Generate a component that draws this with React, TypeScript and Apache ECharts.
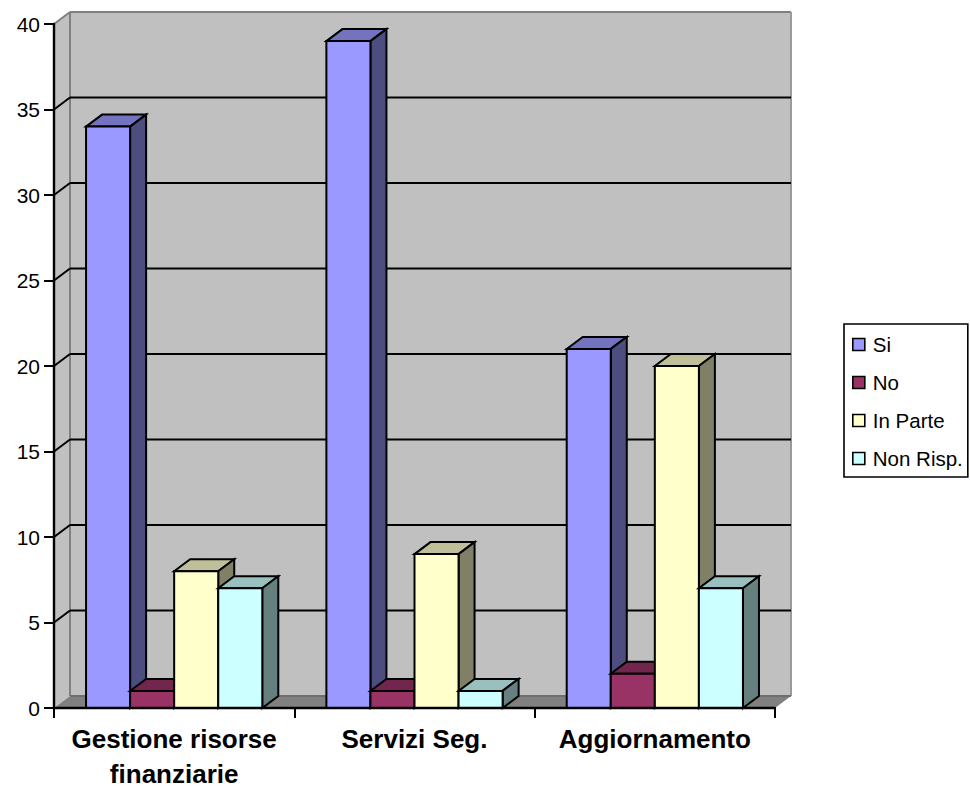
import React, { useEffect, useRef } from "react";
import * as echarts from "echarts";

const categories = ["Gestione risorse\nfinanziarie", "Servizi Seg.", "Aggiornamento"];
const seriesNames = ["Si", "No", "In Parte", "Non Risp."];
const si = [34, 39, 21];
const no = [1, 1, 2];
const inParte = [8, 9, 20];
const nonRisp = [7, 1, 7];
const seriesValues = [si, no, inParte, nonRisp];
const frontColors = ["#9999FF", "#993366", "#FFFFCC", "#CCFFFF"];
const topColors = ["#7373BF", "#73264D", "#BFBF99", "#99BFBF"];
const sideColors = ["#4D4D80", "#4D1A33", "#808066", "#668080"];
const yTicks = [0, 5, 10, 15, 20, 25, 30, 35, 40];

const DX = 16;
const DY = 12;
const BAR_SHARE = 44 / 240;
const INK = 2;

function wallItem(params: any, api: any) {
  const cs = params.coordSys;
  const x0 = cs.x, x1 = cs.x + cs.width;
  const y0 = cs.y + cs.height, y1 = cs.y;
  const poly = (points: number[][], fill: string) => ({
    type: "polygon",
    shape: { points },
    style: { fill, stroke: "none" },
  });
  const edge = (x1a: number, y1a: number, x2a: number, y2a: number, stroke = "#808080") => ({
    type: "line",
    shape: { x1: x1a, y1: y1a, x2: x2a, y2: y2a },
    style: { stroke, lineWidth: 2 },
  });
  return {
    type: "group",
    children: [
      poly([[x0 + DX, y1 - DY], [x1 + DX, y1 - DY], [x1 + DX, y0 - DY], [x0 + DX, y0 - DY]], "#C0C0C0"),
      poly([[x0, y1], [x0 + DX, y1 - DY], [x0 + DX, y0 - DY], [x0, y0]], "#C0C0C0"),
      poly([[x0, y0], [x0 + DX, y0 - DY], [x1 + DX, y0 - DY], [x1, y0]], "#808080"),
      edge(x0 + DX, y1 - DY, x1 + DX, y1 - DY),
      edge(x0 + DX, y1 - DY, x0 + DX, y0 - DY),
      edge(x1 + DX, y1 - DY, x1 + DX, y0 - DY, "#9A9A9A"),
      edge(x0, y1, x0 + DX, y1 - DY),
      edge(x0 + DX, y0 - DY, x1 + DX, y0 - DY, "#6E6E6E"),
    ],
  };
}

function gridItem(params: any, api: any) {
  const cs = params.coordSys;
  const p = api.coord([0, api.value(0)]);
  const y = p[1];
  const x0 = cs.x, x1 = cs.x + cs.width;
  const stroke = { stroke: "#000", lineWidth: INK };
  return {
    type: "group",
    children: [
      { type: "line", shape: { x1: x0, y1: y, x2: x0 + DX, y2: y - DY }, style: stroke },
      { type: "line", shape: { x1: x0 + DX, y1: y - DY, x2: x1 + DX, y2: y - DY }, style: stroke },
    ],
  };
}

function barRenderer(si: number) {
  return (params: any, api: any) => {
    const cat = api.value(0);
    const val = api.value(1);
    const band = api.size([1, 0])[0];
    const w = band * BAR_SHARE;
    const c = api.coord([cat, val]);
    const b = api.coord([cat, 0]);
    const xl = c[0] - 2 * w + si * w;
    const xr = xl + w;
    const yt = c[1];
    const yb = b[1];
    const line = { stroke: "#000", lineWidth: INK, lineJoin: "miter" };
    return {
      type: "group",
      children: [
        { type: "polygon", shape: { points: [[xl, yt], [xr, yt], [xr + DX, yt - DY], [xl + DX, yt - DY]] }, style: { fill: topColors[si], ...line } },
        { type: "polygon", shape: { points: [[xr, yt], [xr + DX, yt - DY], [xr + DX, yb - DY], [xr, yb]] }, style: { fill: sideColors[si], ...line } },
        { type: "polygon", shape: { points: [[xl, yt], [xr, yt], [xr, yb], [xl, yb]] }, style: { fill: frontColors[si], ...line } },
      ],
    };
  };
}

export default function App() {
  const ref = useRef<HTMLDivElement>(null);
  useEffect(() => {
    document.body.style.margin = "0";
    const chart = echarts.init(ref.current!, null, { renderer: "svg" });
    const option: any = {
      animation: false,
      backgroundColor: "#ffffff",
      grid: { left: 54, right: 195, top: 24, bottom: 80, containLabel: false, outerBoundsMode: "none" },
      legend: {
        show: true,
        orient: "vertical",
        left: 844,
        top: 324,
        data: seriesNames.map((name, i) => ({
          name,
          icon: "rect",
          itemStyle: { color: frontColors[i], borderColor: "#000", borderWidth: 1.6 },
        })),
        itemWidth: 12,
        itemHeight: 12,
        itemGap: 17,
        padding: [10, 5, 8, 8],
        borderColor: "#000",
        borderWidth: 1.6,
        textStyle: { fontFamily: "Liberation Sans", fontSize: 20.5, color: "#000", padding: [0, 0, 0, 3] },
      },
      xAxis: {
        type: "category",
        data: categories,
        boundaryGap: true,
        axisLine: { lineStyle: { color: "#000", width: 2.4 } },
        axisTick: { show: true, length: 10, alignWithLabel: false, lineStyle: { color: "#000", width: 2 } },
        axisLabel: {
          fontFamily: "Liberation Sans",
          fontWeight: "bold",
          fontSize: 26,
          lineHeight: 35,
          color: "#000",
          margin: 13,
          interval: 0,
        },
        splitLine: { show: false },
        z: 20,
      },
      yAxis: {
        type: "value",
        min: 0,
        max: 40,
        interval: 5,
        axisLine: { show: true, lineStyle: { color: "#000", width: 2.4 } },
        axisTick: { show: true, length: 10, lineStyle: { color: "#000", width: 2 } },
        axisLabel: { fontFamily: "Liberation Sans", fontSize: 21, color: "#000", margin: 14 },
        splitLine: { show: false },
        z: 20,
      },
      series: [
        {
          type: "custom",
          name: "__walls",
          silent: true,
          z: 1,
          clip: false,
          renderItem: wallItem,
          data: [[0, 0]],
          encode: { x: 0, y: 1 },
        },
        {
          type: "custom",
          name: "__grid",
          silent: true,
          z: 2,
          clip: false,
          renderItem: gridItem,
          data: yTicks.filter((t) => t > 0 && t < 40).map((t) => [t]),
          encode: { y: 0 },
        },
        ...seriesNames.map((name, i) => ({
          type: "custom",
          name,
          z: 3 + i,
          clip: false,
          itemStyle: { color: frontColors[i] },
          renderItem: barRenderer(i),
          data: seriesValues[i].map((v, c) => [c, v]),
          encode: { x: 0, y: 1 },
        })),
      ],
    };
    chart.setOption(option);
    return () => chart.dispose();
  }, []);
  return <div ref={ref} style={{ width: 970, height: 788 }} />;
}
